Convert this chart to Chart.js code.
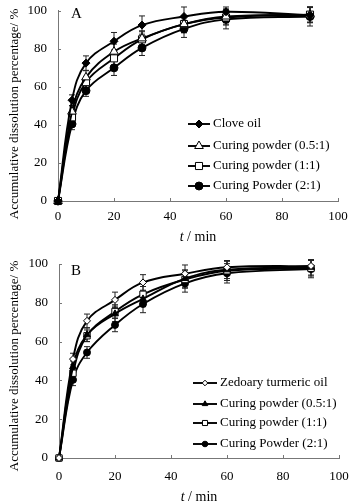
<!DOCTYPE html>
<html>
<head>
<meta charset="utf-8">
<script src="https://cdn.jsdelivr.net/npm/chart.js@4.4.0/dist/chart.umd.min.js"></script>
<style>
    body { margin: 0; background: #fff; }
    .panel { position: absolute; left: 0; width: 355px; height: 252px; }
</style>
</head>
<body>
<div class="panel" style="top:0"><canvas id="chartA" width="355" height="252"></canvas></div>
<div class="panel" style="top:252px"><canvas id="chartB" width="355" height="252"></canvas></div>
<script>
// sampling times (min)
const times = [0, 5, 10, 20, 30, 45, 60, 90];
const xTitle = ['t', ' / min'];
const yTitle = 'Accumulative dissolution percentage/ %';

// panel A
const labelsA = ['Clove oil', 'Curing powder (0.5:1)', 'Curing powder (1:1)', 'Curing Powder (2:1)'];
const cloveOil = [0, 53, 72.5, 84, 92.5, 97, 99.5, 97.7];
const cloveOilErr = [0, 2.8, 3.8, 4.6, 4.8, 5, 2.5, 4];
const powderA05 = [0, 47, 65, 78.5, 85.5, 93, 97, 98];
const powderA05Err = [0, 3, 3.5, 4, 4, 4.5, 4, 4];
const powderA1 = [0, 44, 62.5, 75, 85, 93, 96.5, 98];
const powderA1Err = [0, 3, 3, 4, 4, 4.5, 4, 4];
const powderA2 = [0, 40.5, 58, 70, 80.5, 90.5, 95.5, 97];
const powderA2Err = [0, 3, 3, 4, 4, 4.5, 5, 5];

// panel B
const labelsB = ['Zedoary turmeric oil', 'Curing powder (0.5:1)', 'Curing powder (1:1)', 'Curing Powder (2:1)'];
const zedoaryOil = [0, 51, 70.7, 81.5, 90.5, 95, 98.3, 99];
const zedoaryOilErr = [0, 3, 3.5, 4, 4, 4.5, 3.5, 3];
const powderB05 = [0, 47, 63.5, 74.3, 82, 92.5, 97, 98.3];
const powderB05Err = [0, 3, 3.5, 4, 4, 4.5, 4.5, 4];
const powderB1 = [0, 43.7, 63, 75.5, 84.4, 92, 96.5, 97.8];
const powderB1Err = [0, 3, 3, 3.5, 4, 4.5, 5, 4];
const powderB2 = [0, 40.3, 54.4, 68.6, 79.4, 90, 95.2, 97.4];
const powderB2Err = [0, 3, 3, 3.5, 4.5, 4.5, 5, 4.5];

const FONT = '"Liberation Serif", "Times New Roman", serif';

function toPoints(values) {
    return values.map((v, i) => ({ x: times[i], y: v }));
}

function makeDataset(label, values, errors, style, radius, filled) {
    return {
        label: label,
        data: toPoints(values),
        errors: errors,
        borderColor: '#000',
        borderWidth: 1.9,
        tension: 0.4,
        pointStyle: style,
        pointRadius: radius,
        pointHoverRadius: radius,
        pointBorderWidth: 1,
        pointBorderColor: '#000',
        pointBackgroundColor: filled ? '#000' : '#fff',
        clip: false
    };
}

// error bars, inside ticks, legend and titles
const extrasPlugin = {
    id: 'extras',
    beforeDatasetsDraw(chart) {
        const ctx = chart.ctx;
        const y = chart.scales.y;
        ctx.save();
        ctx.strokeStyle = '#222';
        ctx.lineWidth = 1;
        chart.data.datasets.forEach((ds, i) => {
            const meta = chart.getDatasetMeta(i);
            meta.data.forEach((pt, j) => {
                const e = ds.errors[j];
                if (!e) return;
                const top = y.getPixelForValue(ds.data[j].y + e);
                const bot = y.getPixelForValue(ds.data[j].y - e);
                ctx.beginPath();
                ctx.moveTo(pt.x, top); ctx.lineTo(pt.x, bot);
                ctx.moveTo(pt.x - 3, top); ctx.lineTo(pt.x + 3, top);
                ctx.moveTo(pt.x - 3, bot); ctx.lineTo(pt.x + 3, bot);
                ctx.stroke();
            });
        });
        ctx.restore();
    },
    afterDraw(chart, args, opts) {
        const ctx = chart.ctx;
        const area = chart.chartArea;
        const xs = chart.scales.x, ys = chart.scales.y;
        ctx.save();

        // inward tick marks
        ctx.strokeStyle = '#777';
        ctx.lineWidth = 1;
        ctx.beginPath();
        xs.ticks.forEach(t => {
            if (t.value === 0) return;
            const px = Math.round(xs.getPixelForValue(t.value)) + 0.5;
            ctx.moveTo(px, area.bottom); ctx.lineTo(px, area.bottom - 3);
        });
        ys.ticks.forEach(t => {
            if (t.value === 0) return;
            const py = Math.round(ys.getPixelForValue(t.value)) + 0.5;
            ctx.moveTo(area.left, py); ctx.lineTo(area.left + 3, py);
        });
        ctx.stroke();

        // panel letter
        ctx.fillStyle = '#000';
        ctx.font = '15px ' + FONT;
        ctx.textBaseline = 'alphabetic';
        ctx.textAlign = 'left';
        ctx.fillText(opts.letter, 71, opts.letterY);

        // legend
        ctx.font = '13px ' + FONT;
        ctx.textBaseline = 'middle';
        chart.data.datasets.forEach((ds, i) => {
            const ry = opts.legendRows[i];
            ctx.strokeStyle = '#000';
            ctx.lineWidth = ds.borderWidth;
            ctx.beginPath();
            ctx.moveTo(opts.legendX, ry);
            ctx.lineTo(opts.legendX + opts.legendLen, ry);
            ctx.stroke();
            ctx.fillStyle = ds.pointBackgroundColor;
            ctx.strokeStyle = ds.pointBorderColor;
            ctx.lineWidth = ds.pointBorderWidth;
            Chart.helpers.drawPoint(ctx, {
                pointStyle: ds.pointStyle,
                radius: ds.pointRadius * opts.legendScale,
                rotation: 0,
                borderWidth: ds.pointBorderWidth
            }, opts.legendX + opts.legendLen / 2, ry);
            ctx.fillStyle = '#000';
            ctx.fillText(ds.label, opts.legendX + opts.legendLen + 3, ry);
        });

        // x axis title with italic t
        const cx = (area.left + area.right) / 2;
        const ty = area.bottom + opts.xTitleOffset;
        ctx.font = 'italic 14px ' + FONT;
        const w1 = ctx.measureText(xTitle[0]).width;
        ctx.font = '14px ' + FONT;
        const w2 = ctx.measureText(xTitle[1]).width;
        let sx = cx - (w1 + w2) / 2;
        ctx.font = 'italic 14px ' + FONT;
        ctx.fillText(xTitle[0], sx, ty);
        ctx.font = '14px ' + FONT;
        ctx.fillText(xTitle[1], sx + w1, ty);

        // y axis title
        ctx.translate(15, 114);
        ctx.rotate(-Math.PI / 2);
        ctx.textAlign = 'center';
        ctx.font = '13px ' + FONT;
        ctx.fillText(yTitle, 0, 0);
        ctx.restore();
    }
};

function render(canvasId, datasets, layout, extras) {
    let ctx = document.getElementById(canvasId).getContext('2d');
    new Chart(ctx, {
        type: 'line',
        data: { datasets: datasets },
        plugins: [extrasPlugin],
        options: {
            responsive: false,
            animation: false,
            layout: { padding: { top: layout.top, right: layout.right, left: 0, bottom: 0 } },
            plugins: {
                legend: { display: false },
                tooltip: { enabled: false },
                extras: extras
            },
            scales: {
                x: {
                    type: 'linear',
                    min: 0,
                    max: 100,
                    ticks: { stepSize: 20, padding: layout.xPad, color: '#000', font: { family: FONT, size: 13 } },
                    grid: { display: false },
                    border: { display: true, color: '#777', width: 1 },
                    afterFit: scale => { scale.height = 252 - layout.bottom; }
                },
                y: {
                    min: 0,
                    max: 100,
                    ticks: { stepSize: 20, padding: 3, color: '#000', font: { family: FONT, size: 13 } },
                    grid: { display: false },
                    border: { display: true, color: '#777', width: 1 },
                    afterFit: scale => { scale.width = layout.left; }
                }
            }
        }
    });
}

render('chartA', [
    makeDataset(labelsA[0], cloveOil, cloveOilErr, 'rectRot', 4, true),
    makeDataset(labelsA[1], powderA05, powderA05Err, 'triangle', 5, false),
    makeDataset(labelsA[2], powderA1, powderA1Err, 'rect', 5, false),
    makeDataset(labelsA[3], powderA2, powderA2Err, 'circle', 4, true)
], { top: 10, right: 17, bottom: 201, left: 58, xPad: 0 }, {
    letter: 'A', letterY: 18,
    legendX: 188, legendLen: 22, legendScale: 1,
    legendRows: [124, 146, 166, 186],
    xTitleOffset: 36
});

render('chartB', [
    makeDataset(labelsB[0], zedoaryOil, zedoaryOilErr, 'rectRot', 3.5, false),
    makeDataset(labelsB[1], powderB05, powderB05Err, 'triangle', 4, true),
    makeDataset(labelsB[2], powderB1, powderB1Err, 'rect', 4.5, false),
    makeDataset(labelsB[3], powderB2, powderB2Err, 'circle', 3.5, true)
], { top: 12, right: 16, bottom: 206, left: 59, xPad: 3 }, {
    letter: 'B', letterY: 23,
    legendX: 193, legendLen: 24, legendScale: 0.8,
    legendRows: [131, 152, 171, 192],
    xTitleOffset: 39
});
</script>
</body>
</html>
